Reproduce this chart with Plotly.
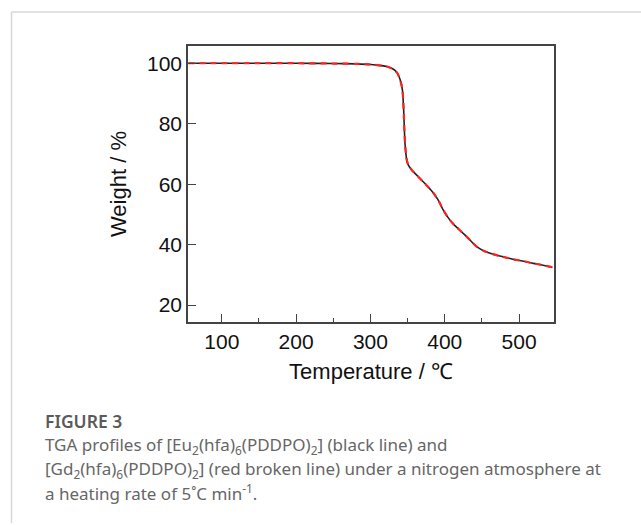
import plotly.graph_objects as go

# Temperature (°C) and weight (%)
temp_eu = [55, 100, 150, 200, 250, 280, 300, 315, 322, 331, 336, 340, 343, 344.5, 346.5, 348.9, 351, 355.6, 363, 371, 378, 385, 392, 398, 407, 414, 421, 432, 443, 452, 463, 474, 486, 497, 508, 519, 532, 545]
weight_eu = [100.0, 100.0, 100.0, 100.0, 99.9, 99.8, 99.6, 99.2, 98.9, 98.0, 96.8, 94.5, 91.2, 85.7, 73.5, 68.0, 66.3, 64.7, 62.8, 60.8, 59.0, 57.0, 54.4, 51.4, 48.1, 46.2, 44.6, 42.0, 39.3, 38.0, 37.0, 36.2, 35.5, 34.9, 34.4, 33.8, 33.2, 32.5]
temp_gd = temp_eu
weight_gd = [100.0, 100.0, 100.0, 100.0, 99.9, 99.8, 99.6, 99.2, 98.9, 98.0, 96.8, 94.5, 91.2, 85.7, 73.5, 68.0, 66.3, 64.7, 62.8, 60.8, 59.0, 57.0, 54.4, 51.4, 48.1, 46.2, 44.6, 42.0, 39.3, 38.0, 37.0, 36.2, 35.5, 34.9, 34.4, 33.8, 33.2, 32.5]

x_ticks = [100, 200, 300, 400, 500]
y_ticks = [20, 40, 60, 80, 100]

W, H = 641, 525
L, R, T, B = 188, 554, 46, 322

def px(x):
    return (x - L) / (R - L)

def py(y):
    return (B - y) / (B - T)

fig = go.Figure()
fig.add_trace(go.Scatter(x=temp_eu, y=weight_eu, mode="lines",
                         line=dict(color="#222222", width=1.6, shape="spline", smoothing=0.6),
                         name="Eu", showlegend=False))
fig.add_trace(go.Scatter(x=temp_gd, y=weight_gd, mode="lines",
                         line=dict(color="#ff2020", width=2.2, dash="6px,5px", shape="spline", smoothing=0.6),
                         name="Gd", showlegend=False))

axis_font = dict(family="Liberation Sans, Arial, sans-serif", size=21, color="#111111")
title_font = dict(family="Liberation Sans, Arial, sans-serif", size=22, color="#111111")
fig.update_xaxes(range=[54.5, 547], tickvals=x_ticks, ticks="inside", ticklen=8, tickwidth=1.3,
                 tickcolor="#444444", showline=True, linecolor="#444444", linewidth=1.6,
                 mirror=True, showgrid=False, zeroline=False, tickfont=axis_font,
                 minor=dict(dtick=50, tick0=0, ticks="inside", ticklen=4, tickwidth=1.2, tickcolor="#444444"),
                 title=dict(text="Temperature / ℃", font=title_font, standoff=12))
fig.update_yaxes(range=[14.4, 105.7], tickvals=y_ticks, ticks="inside", ticklen=8, tickwidth=1.3,
                 tickcolor="#444444", showline=True, linecolor="#444444", linewidth=1.6,
                 mirror=True, showgrid=False, zeroline=False, tickfont=axis_font,
                 title=dict(text="Weight / %", font=title_font, standoff=14))

cap_font = dict(family="Noto Sans, Open Sans, sans-serif", size=17, color="#666666")
annotations = [
    dict(text="FIGURE 3", x=px(43), y=py(421),
         font=dict(family="Noto Sans, Open Sans, sans-serif", size=17.5, color="#5a5a5a", weight=600)),
    dict(text="TGA profiles of [Eu<sub>2</sub>(hfa)<sub>6</sub>(PDDPO)<sub>2</sub>] (black line) and", x=px(43), y=py(445), font=cap_font),
    dict(text="[Gd<sub>2</sub>(hfa)<sub>6</sub>(PDDPO)<sub>2</sub>] (red broken line) under a nitrogen atmosphere at", x=px(43), y=py(469.5), font=cap_font),
    dict(text="a heating rate of 5˚C min<sup>-1</sup>.", x=px(43), y=py(493), font=cap_font),
]
for a in annotations:
    a.update(xref="paper", yref="paper", xanchor="left", yanchor="middle", showarrow=False, align="left")
fig.update_layout(annotations=annotations)

fig.add_shape(type="line", xref="paper", yref="paper", x0=px(11.5), x1=px(641), y0=py(12), y1=py(12),
              line=dict(color="#d8d8d8", width=1.5))
fig.add_shape(type="line", xref="paper", yref="paper", x0=px(11.5), x1=px(11.5), y0=py(12), y1=py(523),
              line=dict(color="#d8d8d8", width=1.5))

fig.update_layout(width=W, height=H, margin=dict(l=L, r=W - R, t=T, b=H - B),
                  paper_bgcolor="white", plot_bgcolor="white")

fig.write_html("out.html")
